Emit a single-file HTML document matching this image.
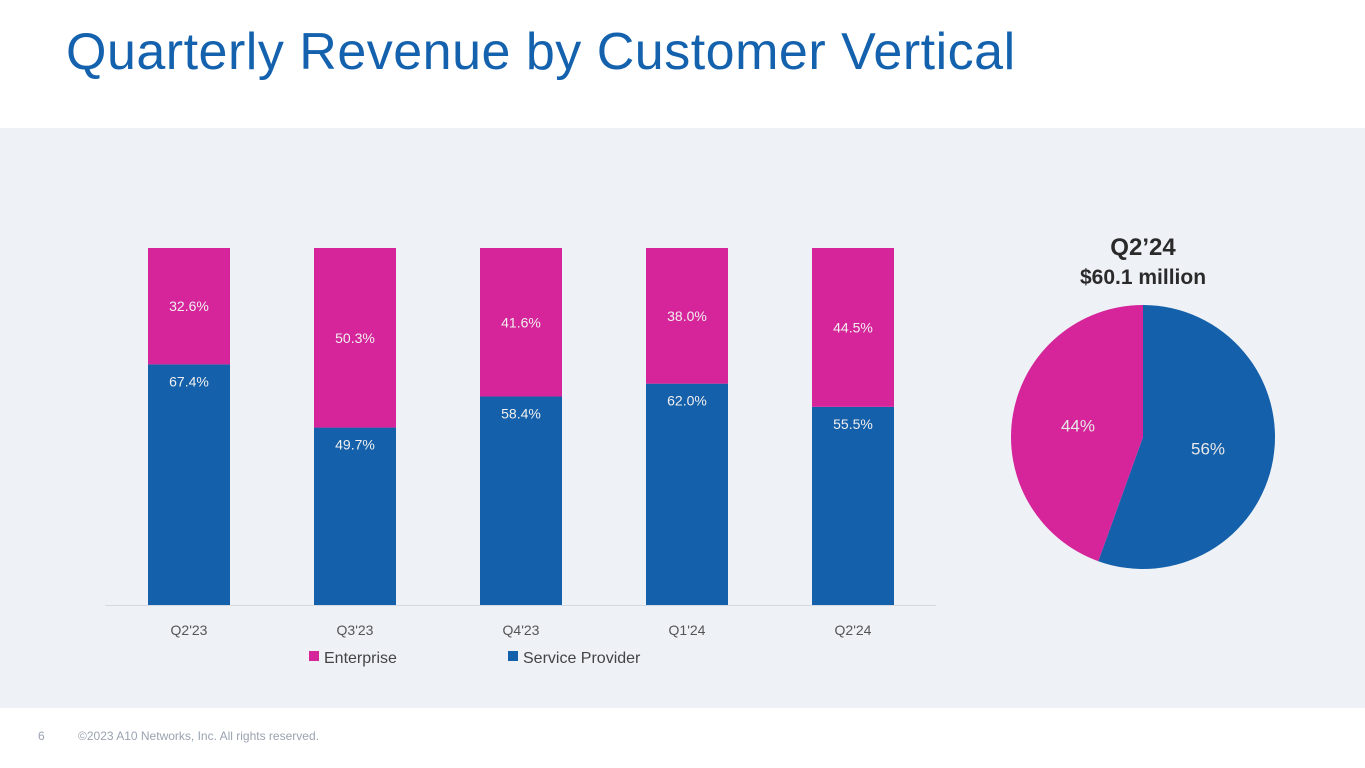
<!DOCTYPE html>
<html><head><meta charset="utf-8"><style>
body{margin:0;width:1365px;height:768px;overflow:hidden;background:#fff;font-family:"Liberation Sans",sans-serif;position:relative}
#title{position:absolute;left:66px;top:22px;font-size:52px;color:#1462AE;margin:0;font-weight:normal;letter-spacing:0.5px}
#panel{position:absolute;left:0;top:128px;width:1365px;height:580px;background:#EEF2F7}
.foot{position:absolute;top:729px;font-size:12px;color:#9AA3B0}
</style></head><body>
<h1 id="title">Quarterly Revenue by Customer Vertical</h1>
<div id="panel"></div>
<svg id="chart" width="1365" height="768" style="position:absolute;left:0;top:0"></svg>
<div class="foot" style="left:38px">6</div>
<div class="foot" style="left:78px">©2023 A10 Networks, Inc. All rights reserved.</div>
<script>
const categories=["Q2'23","Q3'23","Q4'23","Q1'24","Q2'24"];
const serviceProvider=[67.4,49.7,58.4,62.0,55.5];
const enterprise=[32.6,50.3,41.6,38.0,44.5];
const pieValues=[55.5,44.5];
const pieLabels=["56%","44%"];
const BLUE="#1560AA",MAG="#D6249A";
const svg=document.getElementById('chart');
const NS="http://www.w3.org/2000/svg";
function mk(t,a,txt){const e=document.createElementNS(NS,t);for(const k in a)e.setAttribute(k,a[k]);if(txt!==undefined)e.textContent=txt;svg.appendChild(e);return e;}
const y0=605,H=357,x0=189,step=166,bw=82;
const yS=v=>y0-v/100*H;
const line=mk('line',{x1:105,x2:936,y1:y0+0.5,y2:y0+0.5,stroke:'#D5DAE2','stroke-width':1});


categories.forEach((c,i)=>{
  const cx=x0+i*step,tot=serviceProvider[i]+enterprise[i];
  const sTop=yS(serviceProvider[i]/tot*100),eTop=yS(100);
  const b=mk('rect',{x:cx-bw/2,y:sTop,width:bw,height:y0-sTop,fill:BLUE});
  
  
  const e=mk('rect',{x:cx-bw/2,y:eTop,width:bw,height:sTop-eTop,fill:MAG});
  
  
  const l1=mk('text',{x:cx,y:sTop+22,'text-anchor':'middle','font-size':14,fill:'#F0F0F0'},serviceProvider[i].toFixed(1)+'%');
  
  
  const l2=mk('text',{x:cx,y:(sTop+eTop)/2+5,'text-anchor':'middle','font-size':14,fill:'#F0F0F0'},enterprise[i].toFixed(1)+'%');
  
  
  const t=mk('text',{x:cx,y:635,'text-anchor':'middle','font-size':14,fill:'#555'},c);
  
  
});
[[MAG,'Enterprise',309],[BLUE,'Service Provider',508]].forEach(([col,txt,x])=>{
  const r=mk('rect',{x:x,y:651,width:10,height:10,fill:col});
  
  
  const t=mk('text',{x:x+15,y:663,'font-size':16,fill:'#444'},txt);
  
  
});
const pcx=1143,pcy=437,pr=132;const ptot=pieValues.reduce((a,b)=>a+b,0);
let ang=0;const cols=[BLUE,MAG];
pieValues.forEach((v,i)=>{
  const a1=ang,a2=ang+v/ptot*2*Math.PI;ang=a2;
  const p=(a)=>[pcx+pr*Math.sin(a),pcy-pr*Math.cos(a)];
  const [sx,sy]=p(a1),[ex,ey]=p(a2);
  const s=mk('path',{d:`M${pcx},${pcy}L${sx},${sy}A${pr},${pr} 0 ${a2-a1>Math.PI?1:0} 1 ${ex},${ey}Z`,fill:cols[i]});
  
  
  const m=(a1+a2)/2,lx=pcx+pr*0.5*Math.sin(m),ly=pcy-pr*0.5*Math.cos(m);
  const t=mk('text',{x:lx,y:ly+6,'text-anchor':'middle','font-size':17,fill:'#E8E8E8'},pieLabels[i]);
  
  
});
const pt=mk('text',{x:pcx,y:255,'text-anchor':'middle','font-size':24,'font-weight':'bold',fill:'#2A2A2A'},'Q2’24');


const ps=mk('text',{x:pcx,y:284,'text-anchor':'middle','font-size':21,'font-weight':'bold',fill:'#2A2A2A'},'$60.1 million');


</script>
</body></html>
